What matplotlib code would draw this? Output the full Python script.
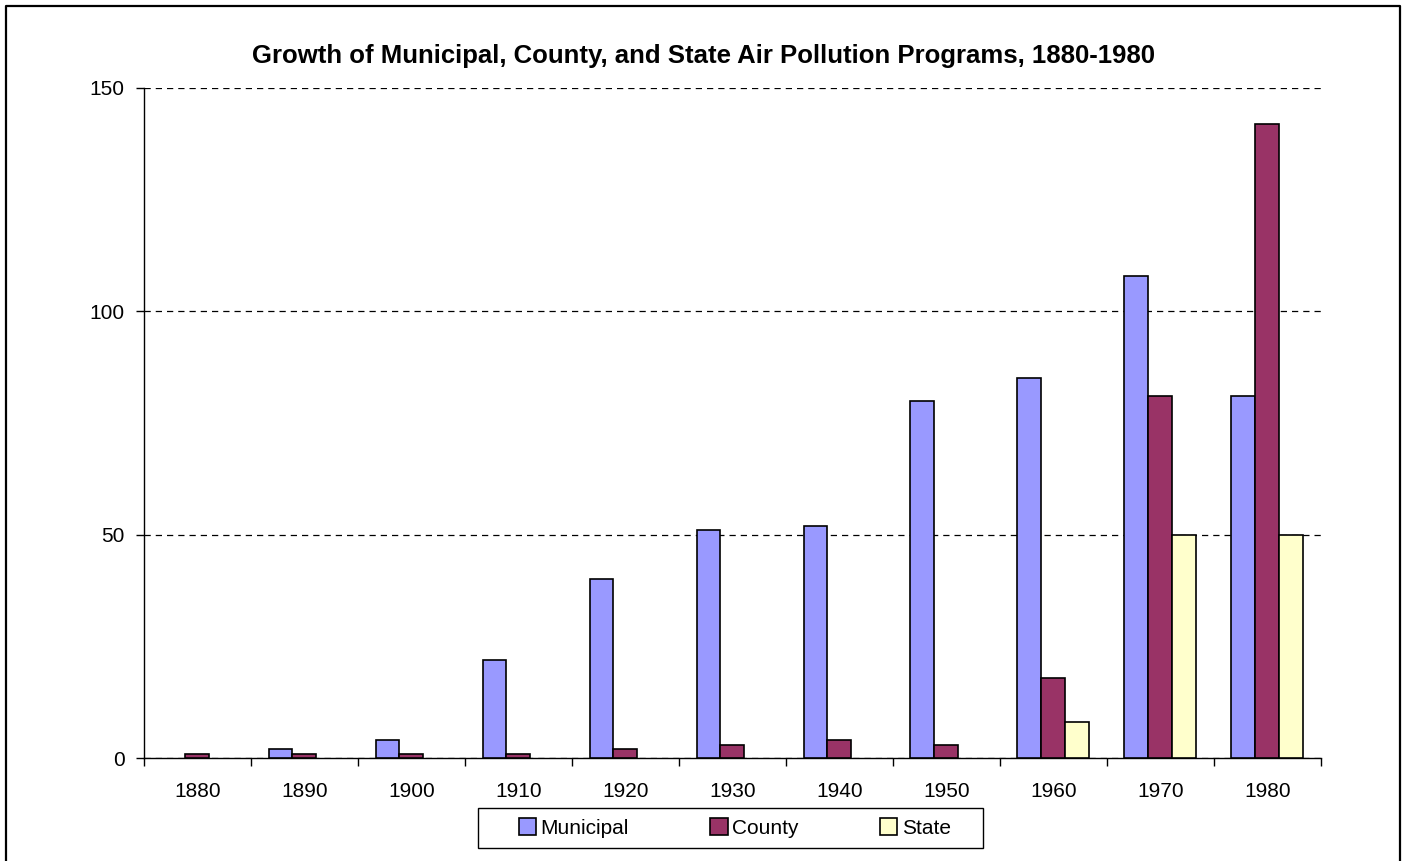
import numpy as np
import matplotlib
matplotlib.use("Agg")
import matplotlib.pyplot as plt
from matplotlib.lines import Line2D
from matplotlib.patches import Rectangle, Patch

plt.rcParams['font.family'] = ['Liberation Sans', 'DejaVu Sans']

years = ['1880', '1890', '1900', '1910', '1920', '1930', '1940', '1950', '1960', '1970', '1980']
municipal = [0, 2, 4, 22, 40, 51, 52, 80, 85, 108, 81]
county = [1, 1, 1, 1, 2, 3, 4, 3, 18, 81, 142]
state = [0, 0, 0, 0, 0, 0, 0, 0, 8, 50, 50]

fig = plt.figure(figsize=(14.06, 8.61), dpi=100)
ax = fig.add_axes([0.1024, 0.1196, 0.8371, 0.7782])

x = np.arange(len(years))
w = 0.224
series = [(municipal, '#9999FF', 'Municipal', -w),
          (county, '#993366', 'County', 0),
          (state, '#FFFFCC', 'State', w)]
handles = []
for vals, col, name, off in series:
    bars = ax.bar(x + off, vals, w, color=col, edgecolor='black', linewidth=1.2, zorder=3)
    # empty bars are not drawn at all
    for b, v in zip(bars, vals):
        if v == 0:
            b.set_visible(False)
    handles.append(Patch(facecolor=col, edgecolor='black', linewidth=1.2, label=name))

ax.set_xlim(-0.5, len(years) - 0.5)
ax.set_ylim(0, 150)
ax.set_yticks([0, 50, 100, 150])
ax.yaxis.grid(True, linestyle=(0, (5, 4)), color='black', linewidth=0.9)
ax.set_axisbelow(True)

# group labels in the middle, ticks on the group edges
ax.set_xticks(x)
ax.set_xticklabels(years)
ax.set_xticks(np.arange(len(years) + 1) - 0.5, minor=True)
ax.tick_params(axis='x', which='major', length=0, pad=17, labelsize=15)
ax.tick_params(axis='x', which='minor', length=6, width=1, direction='out')
ax.tick_params(axis='y', length=6, width=1, pad=8, labelsize=15)

for s in ['top', 'right']:
    ax.spines[s].set_visible(False)
ax.spines['left'].set_linewidth(1)
ax.spines['bottom'].set_linewidth(1)

fig.text(0.5007, 1 - 63.5 / 861,
         'Growth of Municipal, County, and State Air Pollution Programs, 1880-1980',
         fontsize=18.5, fontweight='bold', ha='center', va='baseline')

leg = ax.legend(handles=handles, loc='center', bbox_to_anchor=(0.5225, 0.0383),
                bbox_transform=fig.transFigure,
                ncol=3, fontsize=15, frameon=False,
                handlelength=0.85, handleheight=0.85, handletextpad=0.2,
                columnspacing=3.9)

# legend box
fig.add_artist(Rectangle((478 / 1406, 1 - 848 / 861), 505 / 1406, 40 / 861,
                         fill=False, edgecolor='black', linewidth=1, transform=fig.transFigure))

# border round the picture (bottom edge is cut off)
fx = [6 / 1406, 6 / 1406, 1400 / 1406, 1400 / 1406]
fy = [0, 1 - 6 / 861, 1 - 6 / 861, 0]
fig.add_artist(Line2D(fx, fy, color='black', linewidth=1.6, transform=fig.transFigure))

plt.savefig('out.png', dpi=100)
